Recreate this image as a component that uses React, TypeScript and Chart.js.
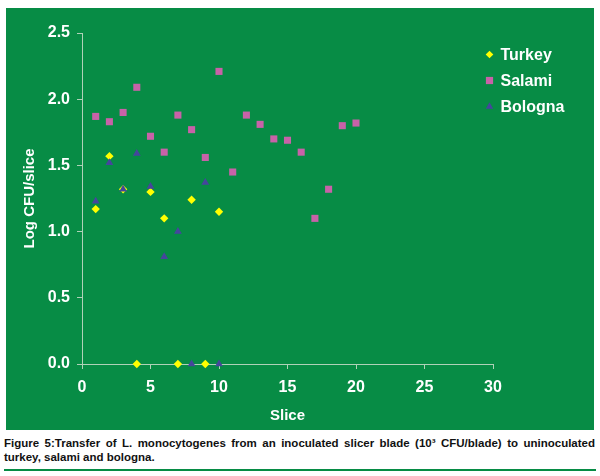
import React, { useEffect, useRef } from 'react';
import { Chart, registerables } from 'chart.js';

Chart.register(...registerables);

// ---- data ----
const seriesLabels = ['Turkey', 'Salami', 'Bologna'];

const turkeyX = [1, 2, 3, 4, 5, 6, 7, 8, 9, 10];
const turkeyY = [1.17, 1.57, 1.32, 0, 1.3, 1.1, 0, 1.24, 0, 1.15];

const salamiX = [1, 2, 3, 4, 5, 6, 7, 8, 9, 10, 11, 12, 13, 14, 15, 16, 17, 18, 19, 20];
const salamiY = [1.87, 1.83, 1.9, 2.09, 1.72, 1.6, 1.88, 1.77, 1.56, 2.21, 1.45, 1.88, 1.81, 1.7, 1.69, 1.6, 1.1, 1.32, 1.8, 1.82];

const bolognaX = [1, 2, 3, 4, 5, 6, 7, 8, 9, 10];
const bolognaY = [1.23, 1.52, 1.32, 1.59, 1.34, 0.81, 1.0, 0, 1.37, 0];

const xTicks = [0, 5, 10, 15, 20, 25, 30];
const yTicks = [0, 0.5, 1.0, 1.5, 2.0, 2.5];

const xTitle = 'Slice';
const yTitle = 'Log CFU/slice';
const captionLine1 = 'Figure 5:Transfer of L. monocytogenes from an inoculated slicer blade (10\u00B3 CFU/blade) to uninoculated';
const captionLine2 = 'turkey, salami and bologna.';

// ---- styles ----
const GREEN = '#078c45';
const AXIS = '#b0d2b8';
const TURKEY = '#ffff00';
const SALAMI = '#c862a8';
const BOLOGNA = '#45469c';
const FONT = '"Liberation Sans", Arial, Helvetica, sans-serif';

const toPts = (xs: number[], ys: number[]) => xs.map((x, i) => ({ x, y: ys[i] }));

function drawMarker(ctx: CanvasRenderingContext2D, style: string, x: number, y: number, r: number, color: string) {
  ctx.save();
  ctx.fillStyle = color;
  ctx.beginPath();
  if (style === 'rectRot') {
    ctx.moveTo(x, y - r);
    ctx.lineTo(x + r, y);
    ctx.lineTo(x, y + r);
    ctx.lineTo(x - r, y);
  } else if (style === 'rect') {
    ctx.rect(x - r, y - r, 2 * r, 2 * r);
  } else {
    const c = Math.cos(Math.PI / 6) * r;
    ctx.moveTo(x, y - r);
    ctx.lineTo(x + c, y + r / 2);
    ctx.lineTo(x - c, y + r / 2);
  }
  ctx.closePath();
  ctx.fill();
  ctx.restore();
}

const legendPlugin = {
  id: 'customLegend',
  afterDraw(chart: any) {
    const ctx = chart.ctx as CanvasRenderingContext2D;
    const baseX = 483.5;
    const baseY = 46.5;
    const step = 26;
    const sizes: Record<string, number> = { rectRot: 3.8, rect: 3.6, triangle: 4.3 };
    seriesLabels.forEach((lbl, i) => {
      const ds = chart.data.datasets.find((d: any) => d.label === lbl);
      if (!ds) return;
      const y = baseY + i * step;
      drawMarker(ctx, ds.pointStyle, baseX, y, sizes[ds.pointStyle] || 4, ds.backgroundColor);
      ctx.save();
      ctx.fillStyle = '#ffffff';
      ctx.font = `bold 16px ${FONT}`;
      ctx.textBaseline = 'middle';
      ctx.textAlign = 'left';
      ctx.fillText(lbl, baseX + 11, y + 1);
      ctx.restore();
    });
  },
};

export default function App() {
  const canvasRef = useRef<HTMLCanvasElement | null>(null);

  useEffect(() => {
    if (!canvasRef.current) return;
    const chart = new Chart(canvasRef.current, {
      type: 'scatter',
      data: {
        datasets: [
          {
            label: seriesLabels[0],
            data: toPts(turkeyX, turkeyY),
            pointStyle: 'rectRot',
            pointRadius: 4.2,
            backgroundColor: TURKEY,
            borderColor: TURKEY,
            borderWidth: 0,
            order: 2,
            clip: false,
          },
          {
            label: seriesLabels[1],
            data: toPts(salamiX, salamiY),
            pointStyle: 'rect',
            pointRadius: 5,
            backgroundColor: SALAMI,
            borderColor: SALAMI,
            borderWidth: 0,
            order: 1,
            clip: false,
          },
          {
            label: seriesLabels[2],
            data: toPts(bolognaX, bolognaY),
            pointStyle: 'triangle',
            pointRadius: 4.5,
            backgroundColor: BOLOGNA,
            borderColor: BOLOGNA,
            borderWidth: 0,
            order: 0,
            clip: false,
          },
        ] as any,
      },
      options: {
        responsive: false,
        animation: false,
        devicePixelRatio: 1,
        layout: { padding: { left: 0, top: 25, right: 101, bottom: 0 } },
        plugins: {
          legend: { display: false },
          tooltip: { enabled: false },
        },
        scales: {
          x: {
            type: 'linear',
            min: 0,
            max: 30,
            afterBuildTicks: (s: any) => {
              s.ticks = xTicks.map((v) => ({ value: v }));
            },
            afterFit: (s: any) => {
              s.height = 66;
            },
            ticks: {
              color: '#ffffff',
              padding: 9,
              font: { family: FONT, size: 16, weight: 'bold' },
              callback: (v: any) => String(v),
            },
            grid: { drawOnChartArea: false, drawTicks: true, tickLength: 5, color: AXIS, lineWidth: 1 },
            border: { display: true, color: AXIS, width: 1 },
            title: {
              display: true,
              text: xTitle,
              color: '#ffffff',
              font: { family: FONT, size: 15, weight: 'bold' },
              padding: { top: 0, bottom: 5 },
            },
          },
          y: {
            type: 'linear',
            min: 0,
            max: 2.5,
            afterBuildTicks: (s: any) => {
              s.ticks = yTicks.map((v) => ({ value: v }));
            },
            afterFit: (s: any) => {
              s.width = 76;
            },
            ticks: {
              color: '#ffffff',
              padding: 7,
              font: { family: FONT, size: 16, weight: 'bold' },
              callback: (v: any) => Number(v).toFixed(1),
            },
            grid: { drawOnChartArea: false, drawTicks: true, tickLength: 5, color: AXIS, lineWidth: 1 },
            border: { display: true, color: AXIS, width: 1 },
            title: {
              display: true,
              text: yTitle,
              color: '#ffffff',
              font: { family: FONT, size: 15, weight: 'bold' },
              padding: { top: 15, bottom: 0 },
            },
          },
        },
      } as any,
      plugins: [legendPlugin],
    });
    return () => chart.destroy();
  }, []);

  return (
    <div style={{ position: 'fixed', left: 0, top: 0, width: 600, height: 476, background: '#ffffff', overflow: 'hidden' }}>
      <div style={{ position: 'absolute', left: 6, top: 8, width: 588, height: 422, background: GREEN }}>
        <canvas ref={canvasRef} width={588} height={422} style={{ display: 'block', width: 588, height: 422 }} />
      </div>
      <div
        style={{
          position: 'absolute',
          left: 4,
          top: 436,
          width: 591,
          fontFamily: FONT,
          fontWeight: 'bold',
          fontSize: 11.5,
          lineHeight: '14px',
          color: '#111111',
        }}
      >
        <div style={{ textAlign: 'justify', textAlignLast: 'justify', whiteSpace: 'nowrap' as any }}>{captionLine1}</div>
        <div>{captionLine2}</div>
      </div>
      <div style={{ position: 'absolute', left: 4, top: 469, width: 592, height: 2, background: GREEN }} />
    </div>
  );
}
